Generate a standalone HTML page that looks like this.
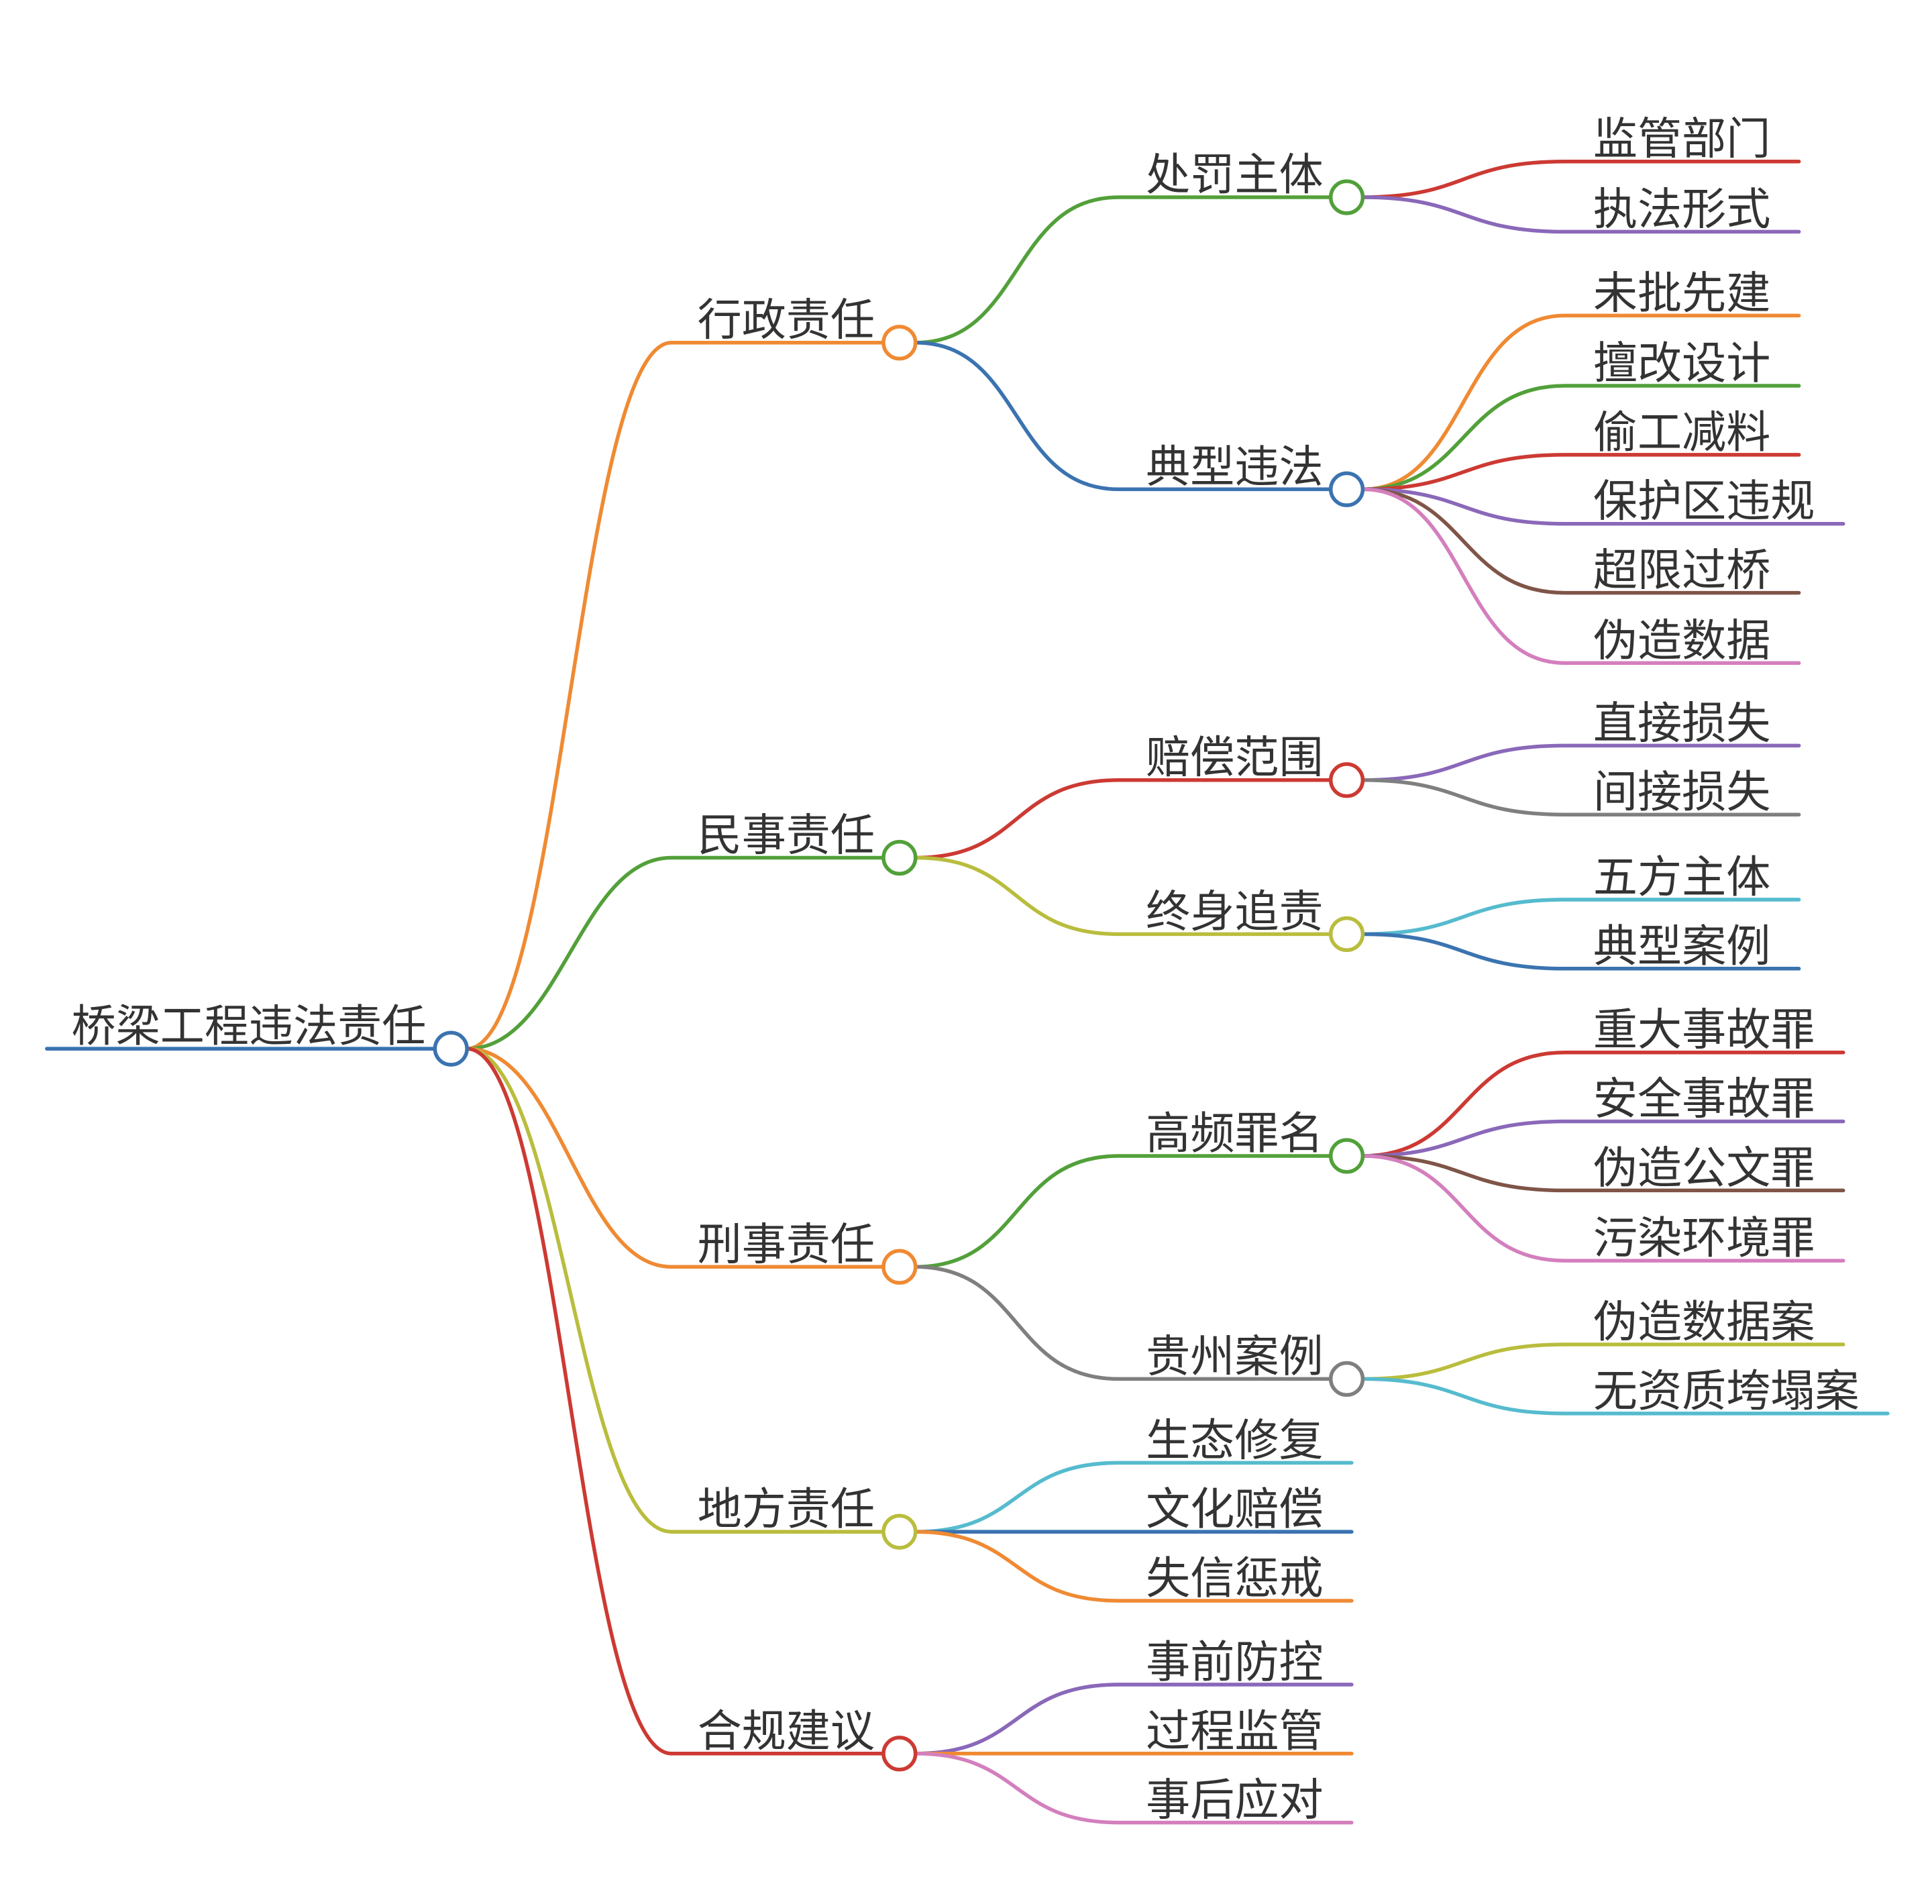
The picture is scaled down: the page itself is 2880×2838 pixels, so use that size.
<!DOCTYPE html>
<html><head><meta charset="utf-8"><style>
html,body{margin:0;padding:0;background:#fff;}
svg{display:block;}
text{font-family:"Liberation Sans","Noto Sans CJK SC",sans-serif;font-size:36px;fill:#333;}
</style></head><body>
<svg width="2880" height="2838" viewBox="0 0 1568 1545" xmlns="http://www.w3.org/2000/svg">
<g fill="none" stroke-width="3" stroke-linecap="round">
<path d="M38 851 H353" stroke="#3b73b0"/>
<path d="M379 851 C455 851 470 278 545 278 H717" stroke="#ef8a33"/>
<path d="M379 851 C455 851 470 696 545 696 H717" stroke="#52a03a"/>
<path d="M379 851 C455 851 470 1028 545 1028 H717" stroke="#ef8a33"/>
<path d="M379 851 C455 851 470 1243 545 1243 H717" stroke="#b9bd3d"/>
<path d="M379 851 C455 851 470 1423 545 1423 H717" stroke="#cc3a33"/>
<path d="M743 278 C830 278 820 160 908 160 H1080" stroke="#52a03a"/>
<path d="M743 278 C830 278 820 397 908 397 H1080" stroke="#3b73b0"/>
<path d="M743 696 C830 696 820 633 908 633 H1080" stroke="#cc3a33"/>
<path d="M743 696 C830 696 820 758 908 758 H1080" stroke="#b9bd3d"/>
<path d="M743 1028 C830 1028 820 938 908 938 H1080" stroke="#52a03a"/>
<path d="M743 1028 C830 1028 820 1119 908 1119 H1080" stroke="#7f7f7f"/>
<path d="M743 1243 C830 1243 820 1187 908 1187 H1097" stroke="#56bbce"/>
<path d="M743 1243 H1097" stroke="#3b73b0"/>
<path d="M743 1243 C830 1243 820 1299 908 1299 H1097" stroke="#ef8a33"/>
<path d="M743 1423 C830 1423 820 1367 908 1367 H1097" stroke="#8a68b9"/>
<path d="M743 1423 H1097" stroke="#ef8a33"/>
<path d="M743 1423 C830 1423 820 1479 908 1479 H1097" stroke="#d47fbd"/>
<path d="M1106 160 C1190 160 1185 131 1270 131 H1460" stroke="#cc3a33"/>
<path d="M1106 160 C1190 160 1185 188 1270 188 H1460" stroke="#8a68b9"/>
<path d="M1106 397 C1190 397 1185 256 1270 256 H1460" stroke="#ef8a33"/>
<path d="M1106 397 C1190 397 1185 313 1270 313 H1460" stroke="#52a03a"/>
<path d="M1106 397 C1190 397 1185 369 1270 369 H1460" stroke="#cc3a33"/>
<path d="M1106 397 C1190 397 1185 425 1270 425 H1496" stroke="#8a68b9"/>
<path d="M1106 397 C1190 397 1185 481 1270 481 H1460" stroke="#7f5548"/>
<path d="M1106 397 C1190 397 1185 538 1270 538 H1460" stroke="#d47fbd"/>
<path d="M1106 633 C1190 633 1185 605 1270 605 H1460" stroke="#8a68b9"/>
<path d="M1106 633 C1190 633 1185 661 1270 661 H1460" stroke="#7f7f7f"/>
<path d="M1106 758 C1190 758 1185 730 1270 730 H1460" stroke="#56bbce"/>
<path d="M1106 758 C1190 758 1185 786 1270 786 H1460" stroke="#3b73b0"/>
<path d="M1106 938 C1190 938 1185 854 1270 854 H1496" stroke="#cc3a33"/>
<path d="M1106 938 C1190 938 1185 910 1270 910 H1496" stroke="#8a68b9"/>
<path d="M1106 938 C1190 938 1185 966 1270 966 H1496" stroke="#7f5548"/>
<path d="M1106 938 C1190 938 1185 1023 1270 1023 H1496" stroke="#d47fbd"/>
<path d="M1106 1119 C1190 1119 1185 1091 1270 1091 H1496" stroke="#b9bd3d"/>
<path d="M1106 1119 C1190 1119 1185 1147 1270 1147 H1532" stroke="#56bbce"/>
</g>
<g fill="#fff" stroke-width="3">
<circle cx="366" cy="851" r="13" stroke="#3b73b0"/>
<circle cx="730" cy="278" r="13" stroke="#ef8a33"/>
<circle cx="730" cy="696" r="13" stroke="#52a03a"/>
<circle cx="730" cy="1028" r="13" stroke="#ef8a33"/>
<circle cx="730" cy="1243" r="13" stroke="#b9bd3d"/>
<circle cx="730" cy="1423" r="13" stroke="#cc3a33"/>
<circle cx="1093" cy="160" r="13" stroke="#52a03a"/>
<circle cx="1093" cy="397" r="13" stroke="#3b73b0"/>
<circle cx="1093" cy="633" r="13" stroke="#cc3a33"/>
<circle cx="1093" cy="758" r="13" stroke="#b9bd3d"/>
<circle cx="1093" cy="938" r="13" stroke="#52a03a"/>
<circle cx="1093" cy="1119" r="13" stroke="#7f7f7f"/>
</g>
<g>
<text x="58" y="845">桥梁工程违法责任</text>
<text x="566" y="272">行政责任</text>
<text x="566" y="690">民事责任</text>
<text x="566" y="1022">刑事责任</text>
<text x="566" y="1237">地方责任</text>
<text x="566" y="1417">合规建议</text>
<text x="930" y="154">处罚主体</text>
<text x="930" y="391">典型违法</text>
<text x="930" y="627">赔偿范围</text>
<text x="930" y="752">终身追责</text>
<text x="930" y="932">高频罪名</text>
<text x="930" y="1113">贵州案例</text>
<text x="930" y="1181">生态修复</text>
<text x="930" y="1237">文化赔偿</text>
<text x="930" y="1293">失信惩戒</text>
<text x="930" y="1361">事前防控</text>
<text x="930" y="1417">过程监管</text>
<text x="930" y="1473">事后应对</text>
<text x="1293" y="125">监管部门</text>
<text x="1293" y="182">执法形式</text>
<text x="1293" y="250">未批先建</text>
<text x="1293" y="307">擅改设计</text>
<text x="1293" y="363">偷工减料</text>
<text x="1293" y="419">保护区违规</text>
<text x="1293" y="475">超限过桥</text>
<text x="1293" y="532">伪造数据</text>
<text x="1293" y="599">直接损失</text>
<text x="1293" y="655">间接损失</text>
<text x="1293" y="724">五方主体</text>
<text x="1293" y="780">典型案例</text>
<text x="1293" y="848">重大事故罪</text>
<text x="1293" y="904">安全事故罪</text>
<text x="1293" y="960">伪造公文罪</text>
<text x="1293" y="1017">污染环境罪</text>
<text x="1293" y="1085">伪造数据案</text>
<text x="1293" y="1141">无资质垮塌案</text>
</g>
</svg>
</body></html>
